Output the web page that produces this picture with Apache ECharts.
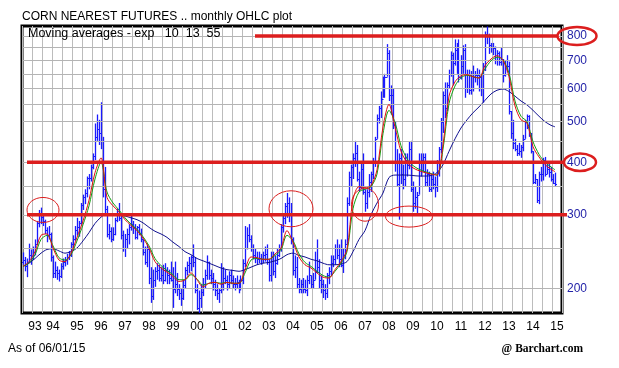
<!DOCTYPE html>
<html><head><meta charset="utf-8">
<script src="https://cdn.jsdelivr.net/npm/echarts@6/dist/echarts.min.js"></script>
<style>html,body{margin:0;padding:0;background:#fff}#c{width:619px;height:368px}</style>
</head><body><div id="c"></div>
<script>
// ---- time axis (monthly, Apr 1993 .. Sep 2015) ----
const startYear = 1993, startMonth = 4, monthCount = 270;
// ---- monthly OHLC, cents/bushel (Apr 1993 .. Jun 2015) ----
const opens = [
 232,234,226,232,240,236,245,256,286,
 300,296,290,276,268,270,238,218,222,218,214,226,
 232,234,238,240,256,262,276,280,286,316,330,338,
 368,368,390,415,460,480,470,450,345,310,270,275,
 262,270,292,302,295,268,250,262,270,280,285,280,
 265,280,270,262,245,232,248,212,192,210,220,222,
 212,216,210,222,215,212,210,200,205,200,195,190,
 204,222,228,230,238,232,198,180,190,196,205,215,
 232,215,212,205,198,195,198,205,212,210,205,215,
 210,205,205,208,200,210,230,250,268,262,250,240,
 238,235,236,235,240,242,232,215,238,220,230,240,
 248,280,295,315,320,300,262,222,225,205,200,205,
 200,198,210,215,205,210,220,225,210,205,198,195,
 215,220,230,235,250,240,235,228,240,255,320,370,
 390,410,420,365,350,385,340,320,340,360,375,400,
 455,510,540,565,615,640,730,580,580,490,400,355,
 410,375,365,405,395,430,345,320,330,335,400,405,
 412,360,375,345,365,355,350,400,430,500,580,540,
 610,650,720,690,740,700,640,680,740,600,650,595,
 650,640,645,645,640,600,680,810,800,760,755,750,
 700,730,695,700,645,680,680,530,470,445,430,420,
 425,435,455,500,515,465,425,360,365,325,375,375,
 405,375,385,380,365,358];
const highs = [
 244,238,236,256,248,252,262,290,308,
 312,300,292,280,282,272,240,232,226,222,230,236,
 238,242,246,258,268,282,295,290,320,335,345,370,
 375,395,420,495,520,505,556,460,390,315,285,280,
 280,295,310,320,300,275,270,278,285,300,290,285,
 282,285,278,262,252,255,250,225,222,225,230,228,
 225,228,230,225,222,232,225,232,218,205,200,210,
 225,232,238,240,255,238,205,198,205,212,222,240,
 232,222,218,210,205,200,230,225,222,215,220,222,
 215,212,215,210,215,235,282,280,285,268,255,250,
 245,245,242,245,252,255,235,245,245,240,250,255,
 285,300,320,338,330,320,265,240,238,212,210,212,
 210,215,232,215,218,245,262,235,215,210,205,218,
 225,240,240,255,262,255,262,250,262,330,380,395,
 420,450,440,380,400,420,345,345,375,380,410,460,
 520,545,590,640,650,765,740,610,600,500,430,420,
 430,395,420,420,448,450,360,350,340,420,420,420,
 420,385,380,375,380,370,405,435,510,590,620,620,
 665,735,730,785,770,785,720,760,765,665,665,660,
 680,660,670,665,650,690,820,843,810,770,770,755,
 740,735,750,705,700,720,695,530,505,455,440,445,
 440,465,505,520,518,470,425,375,365,380,390,410,
 412,400,400,390,375,378];
const lows = [
 228,220,213,230,228,234,240,254,280,
 285,282,270,258,262,232,212,212,210,208,212,222,
 226,228,234,238,250,260,268,266,284,308,318,330,
 345,360,385,405,450,440,430,330,300,265,262,258,
 260,268,288,290,262,245,238,250,255,275,270,262,
 262,268,258,240,228,225,205,185,188,202,210,208,
 208,205,208,205,205,208,180,195,192,188,182,188,
 200,215,218,220,225,195,178,175,180,192,200,210,
 210,205,198,192,188,185,195,198,205,198,200,205,
 200,198,200,195,198,205,225,248,258,245,235,230,
 228,230,228,230,232,228,208,208,215,212,228,238,
 245,272,285,295,288,255,215,212,200,195,195,195,
 195,192,205,200,200,210,218,200,195,190,188,190,
 205,215,225,228,235,225,225,218,235,255,315,350,
 365,390,360,340,345,335,305,310,330,340,365,390,
 455,495,510,570,570,640,560,520,480,380,350,292,
 355,345,350,370,385,340,305,310,300,335,370,380,
 350,350,340,340,345,330,340,370,420,470,510,530,
 600,640,610,680,650,620,630,650,570,585,580,580,
 590,620,610,590,575,555,660,765,725,730,720,685,
 680,680,680,620,640,655,520,455,430,425,414,415,
 410,425,455,480,460,420,355,355,320,318,360,362,
 370,375,368,360,355,350];
const closes = [
 234,226,232,240,236,245,256,286,300,
 296,290,276,268,270,238,218,222,218,214,226,232,
 234,238,240,256,262,276,280,286,316,330,338,368,
 368,390,415,460,480,470,450,345,310,270,275,262,
 270,292,302,295,268,250,262,270,280,285,280,265,
 280,270,262,245,232,248,212,192,210,220,222,212,
 216,210,222,215,212,210,200,205,200,195,190,204,
 222,228,230,238,232,198,180,190,196,205,215,232,
 215,212,205,198,195,198,205,212,210,205,215,210,
 205,205,208,200,210,230,250,268,262,250,240,238,
 235,236,235,240,242,232,215,238,220,230,240,248,
 280,295,315,320,300,262,222,225,205,200,205,200,
 198,210,215,205,210,220,225,210,205,198,195,215,
 220,230,235,250,240,235,228,240,255,320,370,390,
 410,420,365,350,385,340,320,340,360,375,400,455,
 510,540,565,615,640,730,580,580,490,400,355,410,
 375,365,405,395,430,345,320,330,335,400,405,412,
 360,375,345,365,355,350,400,430,500,580,540,610,
 650,720,690,740,700,640,680,740,600,650,595,650,
 640,645,645,640,600,680,810,800,760,755,750,700,
 730,695,700,645,680,680,530,470,445,430,420,425,
 435,455,500,515,465,425,360,365,325,375,375,405,
 375,385,380,365,358,355];
// ---- exponential moving averages, quarterly (Apr/Jul/Oct/Jan) + last month ----
const ema10 = [
 226,232,245, 268,270,250,234, 232,243,265,290, 325,378,410,330, 315,305,292,283,
 275,264,250,232, 224,219,214,208, 210,218,210,202, 206,207,205,207, 206,206,222,238,
 237,235,235,242, 250,275,258,238, 228,224,218,213, 212,222,232,248, 326,350,348,352,
 384,486,550,486, 425,400,388,382, 378,375,373,440, 575,622,643,647, 640,635,680,705,
 718,700,640,545, 505,496,436,412, 395,385,380];
const ema13 = [
 226,230,241, 262,268,253,237, 234,241,260,284, 315,365,400,340, 320,308,295,285,
 277,266,253,236, 227,221,216,210, 210,216,211,204, 206,207,206,207, 206,206,218,234,
 236,235,235,240, 247,268,260,242, 231,226,220,215, 213,220,230,245, 310,340,345,350,
 375,468,532,498, 438,408,393,385, 380,376,373,430, 552,608,636,645, 640,636,668,698,
 712,702,652,560, 515,500,448,418, 400,390,384];
const ema55 = [
 226,230,236, 243,248,249,246, 243,245,250,260, 272,286,296,302, 302,300,298,295,
 292,287,280,274, 270,265,258,252, 245,241,236,233, 230,227,224,222, 221,220,222,225,
 228,230,231,233, 236,241,243,240, 238,235,233,230, 228,228,229,232, 245,262,275,300,
 320,338,368,373, 373,373,372,371, 371,372,378,395, 425,455,483,505, 525,542,562,582,
 594,598,590,575, 560,548,532,515, 500,490,486];
// ---- price axis ----
const gridValues = [200,250,300,350,400,450,500,550,600,650,700,750,800];
const priceLabels = [200,300,400,500,600,700,800];
const supportLevels = [800,400,300];

const categories = [];
for (let i = 0; i < monthCount; i++) {
  const m = startMonth - 1 + i;
  categories.push((startYear + Math.floor(m / 12)) + '-' + String(m % 12 + 1).padStart(2, '0'));
}
const maIdx = [];
for (let i = 0; i <= 264; i += 3) maIdx.push(i);
maIdx.push(closes.length - 1);
const maData = arr => arr.map((v, k) => [maIdx[k], v]);
const ohlc = closes.map((c, i) => [i, opens[i], highs[i], lows[i], c]);

const barColor = '#1a1aff';
const FONT = 'Liberation Sans, Arial, sans-serif';

function renderOHLC(params, api) {
  const i = api.value(0);
  const o = api.coord([i, api.value(1)]);
  const h = api.coord([i, api.value(2)]);
  const l = api.coord([i, api.value(3)]);
  const c = api.coord([i, api.value(4)]);
  const x = Math.floor(h[0]) + 0.5;
  const st = { stroke: barColor, lineWidth: 1.3 };
  const st2 = { stroke: barColor, lineWidth: 1 };
  const oy = Math.round(o[1]) + 0.5, cy = Math.round(c[1]) + 0.5;
  return { type: 'group', children: [
    { type: 'line', shape: { x1: x, y1: h[1], x2: x, y2: l[1] }, style: st },
    { type: 'line', shape: { x1: x - 1.5, y1: oy, x2: x, y2: oy }, style: st2 },
    { type: 'line', shape: { x1: x, y1: cy, x2: x + 1.5, y2: cy }, style: st2 }
  ]};
}

const chart = echarts.init(document.getElementById('c'), null, { renderer: 'canvas' });
chart.setOption({
  animation: false,
  backgroundColor: '#fff',
  grid: { left: 22, right: 57, top: 26, bottom: 55, show: true, borderColor: '#000', borderWidth: 3, backgroundColor: '#fff', z: 0 },
  xAxis: [{
    type: 'category', data: categories, boundaryGap: true,
    axisLine: { show: false }, axisTick: { show: false }, splitLine: { show: false },
    axisLabel: {
      interval: (idx, val) => val.endsWith('-07') || val === '1993-10',
      formatter: v => v.slice(2, 4), color: '#000', fontSize: 12, fontFamily: FONT, margin: 8
    }
  }, {
    type: 'value', min: 0, max: 54, interval: 1, position: 'top',
    axisLine: { show: false }, axisTick: { show: false }, axisLabel: { show: false },
    splitLine: { show: true, lineStyle: { color: '#bcbcbc', width: 1 } }
  }],
  yAxis: {
    type: 'log', logBase: 10, min: 175, max: 845, position: 'right',
    axisLine: { show: false }, axisTick: { show: false }, axisLabel: { show: false },
    splitLine: { show: false }
  },
  series: [{
    type: 'line', data: [], z: 1, silent: true,
    markLine: {
      silent: true, symbol: ['none', 'none'], animation: false,
      lineStyle: { color: '#b4b4b4', width: 1, type: 'solid' },
      label: {
        show: true, position: 'end', distance: 5, color: '#2323a8', fontSize: 12, fontFamily: FONT,
        formatter: p => priceLabels.indexOf(p.value) >= 0 ? String(p.value) : ''
      },
      data: gridValues.map(v => ({ yAxis: v }))
    }
  }, {
    type: 'custom', name: 'OHLC', renderItem: renderOHLC, data: ohlc, z: 3, clip: true,
    encode: { x: 0, y: [1, 2, 3, 4] }, silent: true
  }, {
    type: 'line', name: 'EMA55', data: maData(ema55), smooth: 0.3, showSymbol: false, z: 4,
    lineStyle: { color: '#101090', width: 1 }, silent: true
  }, {
    type: 'line', name: 'EMA13', data: maData(ema13), smooth: 0.3, showSymbol: false, z: 5,
    lineStyle: { color: '#10a010', width: 1 }, silent: true
  }, {
    type: 'line', name: 'EMA10', data: maData(ema10), smooth: 0.3, showSymbol: false, z: 6,
    lineStyle: { color: '#e01010', width: 1 }, silent: true
  }]
});

// ---- annotations (red support lines & ellipses), anchored to data coordinates ----
const px = (cat, v) => chart.convertToPixel({ xAxisIndex: 0, yAxisIndex: 0 }, [categories.indexOf(cat), v]);
const RED = '#dc1e1e';
const lineSpecs = [
  { from: '2002-12', value: supportLevels[0], toX: 558 },
  { from: '1993-06', value: supportLevels[1], toX: 564 },
  { from: '1993-06', value: supportLevels[2], toX: 567 }
];
const ellipseSpecs = [
  { at: '1994-02', value: 308, rx: 16, ry: 12.5 },
  { at: '2004-06', value: 310, rx: 22, ry: 18 },
  { at: '2007-07', value: 317, rx: 13.5, ry: 16.5 },
  { at: '2009-05', value: 297, rx: 23.5, ry: 10.5 }
];
const g = [];
lineSpecs.forEach(s => {
  const p = px(s.from, s.value);
  g.push({ type: 'line', z: 100, shape: { x1: p[0], y1: p[1], x2: s.toX, y2: p[1] }, style: { stroke: RED, lineWidth: 3.5 } });
});
ellipseSpecs.forEach(s => {
  const p = px(s.at, s.value);
  g.push({ type: 'ellipse', z: 100, shape: { cx: p[0], cy: p[1], rx: s.rx, ry: s.ry }, style: { fill: null, stroke: RED, lineWidth: 1 } });
});
[[supportLevels[0], 577, 19.5, 9], [supportLevels[1], 580, 16, 8.7]].forEach(([v, cx, rx, ry]) => {
  const y = px('2000-01', v)[1];
  g.push({ type: 'ellipse', z: 100, shape: { cx, cy: y, rx, ry }, style: { fill: null, stroke: RED, lineWidth: 2.5 } });
});
g.push({ type: 'text', z: 100, left: 22, top: 11, style: { text: 'CORN NEAREST FUTURES .. monthly OHLC plot', fill: '#000', font: '12px ' + FONT } });
g.push({ type: 'text', z: 100, left: 28, top: 27, style: { text: 'Moving averages - exp   10  13  55', fill: '#000', font: '12.5px ' + FONT } });
g.push({ type: 'text', z: 100, left: 8, top: 343, style: { text: 'As of 06/01/15', fill: '#000', font: '12px ' + FONT } });
g.push({ type: 'text', z: 100, right: 36, top: 343, style: { text: '@ Barchart.com', fill: '#000', font: 'bold 11.5px Liberation Serif, Times New Roman, serif' } });
chart.setOption({ graphic: g });
</script>
</body></html>
